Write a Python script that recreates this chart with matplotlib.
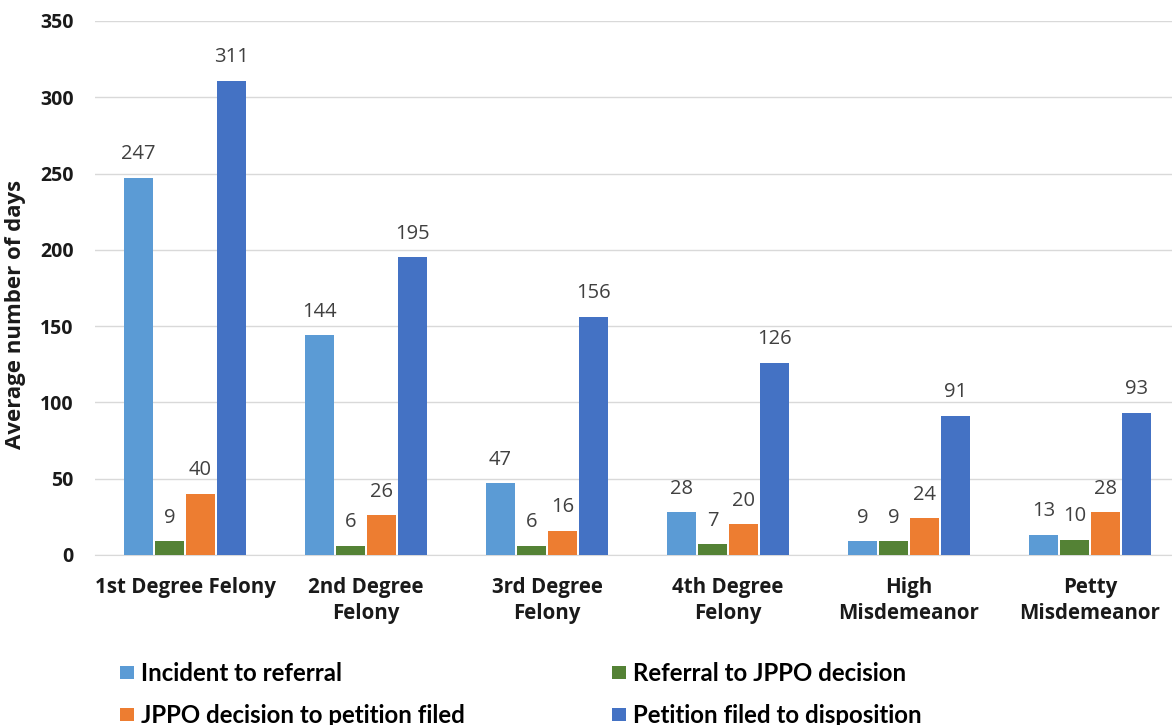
import matplotlib
matplotlib.use("Agg")
import matplotlib.pyplot as plt
import numpy as np

categories = ["1st Degree Felony", "2nd Degree\nFelony", "3rd Degree\nFelony",
              "4th Degree\nFelony", "High\nMisdemeanor", "Petty\nMisdemeanor"]
series_names = ["Incident to referral", "Referral to JPPO decision",
                "JPPO decision to petition filed", "Petition filed to disposition"]
incident_to_referral = [247, 144, 47, 28, 9, 13]
referral_to_decision = [9, 6, 6, 7, 9, 10]
decision_to_petition = [40, 26, 16, 20, 24, 28]
petition_to_disposition = [311, 195, 156, 126, 91, 93]
colors = ["#5B9BD5", "#548235", "#ED7D31", "#4472C4"]

plt.rcParams['font.family'] = ['Open Sans', 'DejaVu Sans']

W, H = 1172, 725
fig = plt.figure(figsize=(W/100, H/100), dpi=100)
left_px, right_px = 94.5, 1172
bottom_px, top_px = 555, 21
ax = fig.add_axes([left_px/W, 1 - bottom_px/H, (right_px-left_px)/W, (bottom_px-top_px)/H])

x = np.arange(len(categories))
data = [incident_to_referral, referral_to_decision, decision_to_petition, petition_to_disposition]
bw = 0.158
step = 0.171
handles = []
for i, (vals, c, name) in enumerate(zip(data, colors, series_names)):
    pos = x + (i - 1.5) * step
    b = ax.bar(pos, vals, width=bw, color=c, label=name, zorder=3)
    handles.append(b)
    for p, v in zip(pos, vals):
        ax.text(p, v + 9, str(v), ha='center', va='bottom', fontsize=14.5, color='#404040', zorder=4)

ax.set_ylim(0, 350)
ax.set_yticks(np.arange(0, 351, 50))
group_px = 181
ax.set_xlim(-0.5, -0.5 + (right_px - left_px) / group_px)
ax.set_xticks(x)
ax.set_xticklabels(categories, fontsize=14.8, fontweight='bold', linespacing=1.3, color='#1a1a1a')
for lab in ax.get_yticklabels():
    lab.set_fontweight('bold')
    lab.set_fontsize(14)
    lab.set_color('#1a1a1a')
ax.tick_params(axis='both', length=0)
ax.tick_params(axis='y', pad=15)
ax.tick_params(axis='x', pad=16)
ax.grid(axis='y', color='#D9D9D9', linewidth=1, zorder=0)
for s in ['top', 'right', 'left']:
    ax.spines[s].set_visible(False)
ax.spines['bottom'].set_color('#D9D9D9')
ax.set_ylabel("Average number of days", fontsize=16, fontweight='bold', color='#1a1a1a')
ax.yaxis.set_label_coords(-0.064, 0.45)

order = [0, 2, 1, 3]
leg = fig.legend([handles[i] for i in order], [series_names[i] for i in order],
                 ncol=2, loc='upper left', bbox_to_anchor=(98/W, 1 - 640/H),
                 frameon=False, handlelength=0.6, handleheight=0.45,
                 handletextpad=0.3, columnspacing=6.1, labelspacing=0.8,
                 prop={'family': 'Lato', 'weight': 'bold', 'size': 17.3})

fig.savefig("out.png", dpi=100)
